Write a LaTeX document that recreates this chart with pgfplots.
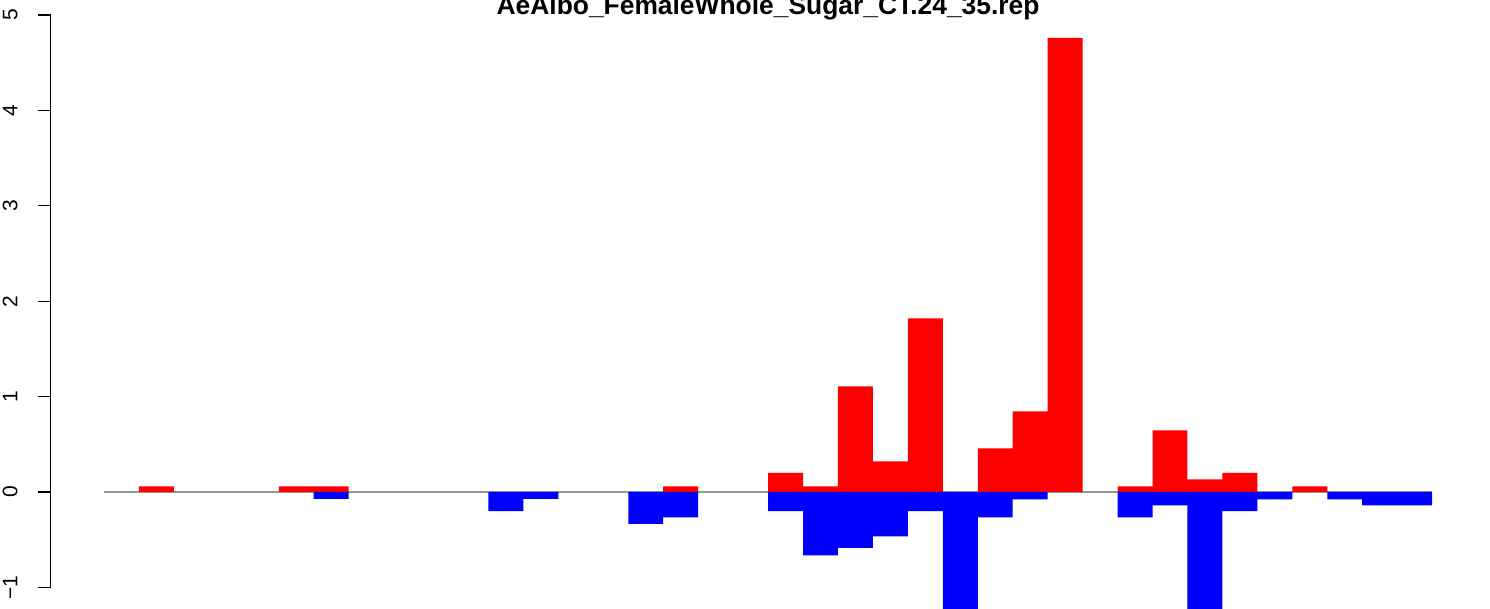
\documentclass[border=0pt]{standalone}
\usepackage{pgfplots}
\pgfplotsset{compat=1.18}
\usepackage{fontspec}
\setmainfont{Liberation Sans}
\definecolor{rred}{RGB}{255,0,0}
\definecolor{rblue}{RGB}{0,0,255}
\definecolor{rgray}{RGB}{150,150,150}
\begin{document}
\begin{tikzpicture}
\begin{axis}[
  x=17.475pt, y=47.7pt,
  xmin=-1.52, xmax=39.52,
  ymin=-1, ymax=5,
  clip=false,
  axis x line=none,
  axis y line*=left,
  axis line style={-, line width=0.6pt, black},
  ytick={-1,0,1,2,3,4,5},
  yticklabels={−1,0,1,2,3,4,5},
  tick align=outside,
  major tick length=6.5pt,
  tick style={line width=0.6pt, black},
  yticklabel style={xshift=-10pt, rotate=90, anchor=south, inner sep=0pt, font=\fontsize{10.5}{12}\selectfont},
  ybar, bar width=1,
]
\addplot[rgray, line width=0.9pt, sharp plot, bar shift=0pt] coordinates {(0,0) (38,0)};
\addplot[fill=rred, draw=none, bar shift=0pt] coordinates {
(1.5,0.06) (5.5,0.06) (6.5,0.06) (16.5,0.06) (19.5,0.2) (20.5,0.06)
(21.5,1.107) (22.5,0.32) (23.5,1.82) (25.5,0.458) (26.5,0.845) (27.5,4.76)
(29.5,0.06) (30.5,0.646) (31.5,0.133) (32.5,0.2) (34.5,0.06)
};
\addplot[fill=rblue, draw=none, bar shift=0pt] coordinates {
(6.5,-0.073) (11.5,-0.2) (12.5,-0.073) (15.5,-0.335) (16.5,-0.265)
(19.5,-0.2) (20.5,-0.664) (21.5,-0.587) (22.5,-0.465) (23.5,-0.2)
(24.5,-1.5) (25.5,-0.265) (26.5,-0.077) (29.5,-0.265) (30.5,-0.14)
(31.5,-1.5) (32.5,-0.2) (33.5,-0.077) (35.5,-0.077) (36.5,-0.14) (37.5,-0.14)
};
\node[anchor=base, inner sep=0pt, font=\fontsize{13.2}{15}\selectfont\bfseries] at (axis cs:19,5.0) {AeAlbo\_FemaleWhole\_Sugar\_CT.24\_35.rep};
\coordinate (bl) at (axis cs:-2.9757,-1.2264);
\coordinate (tr) at (axis cs:39.657,5.1572);
\end{axis}
\pgfresetboundingbox
\useasboundingbox (bl) rectangle (tr);
\end{tikzpicture}
\end{document}
